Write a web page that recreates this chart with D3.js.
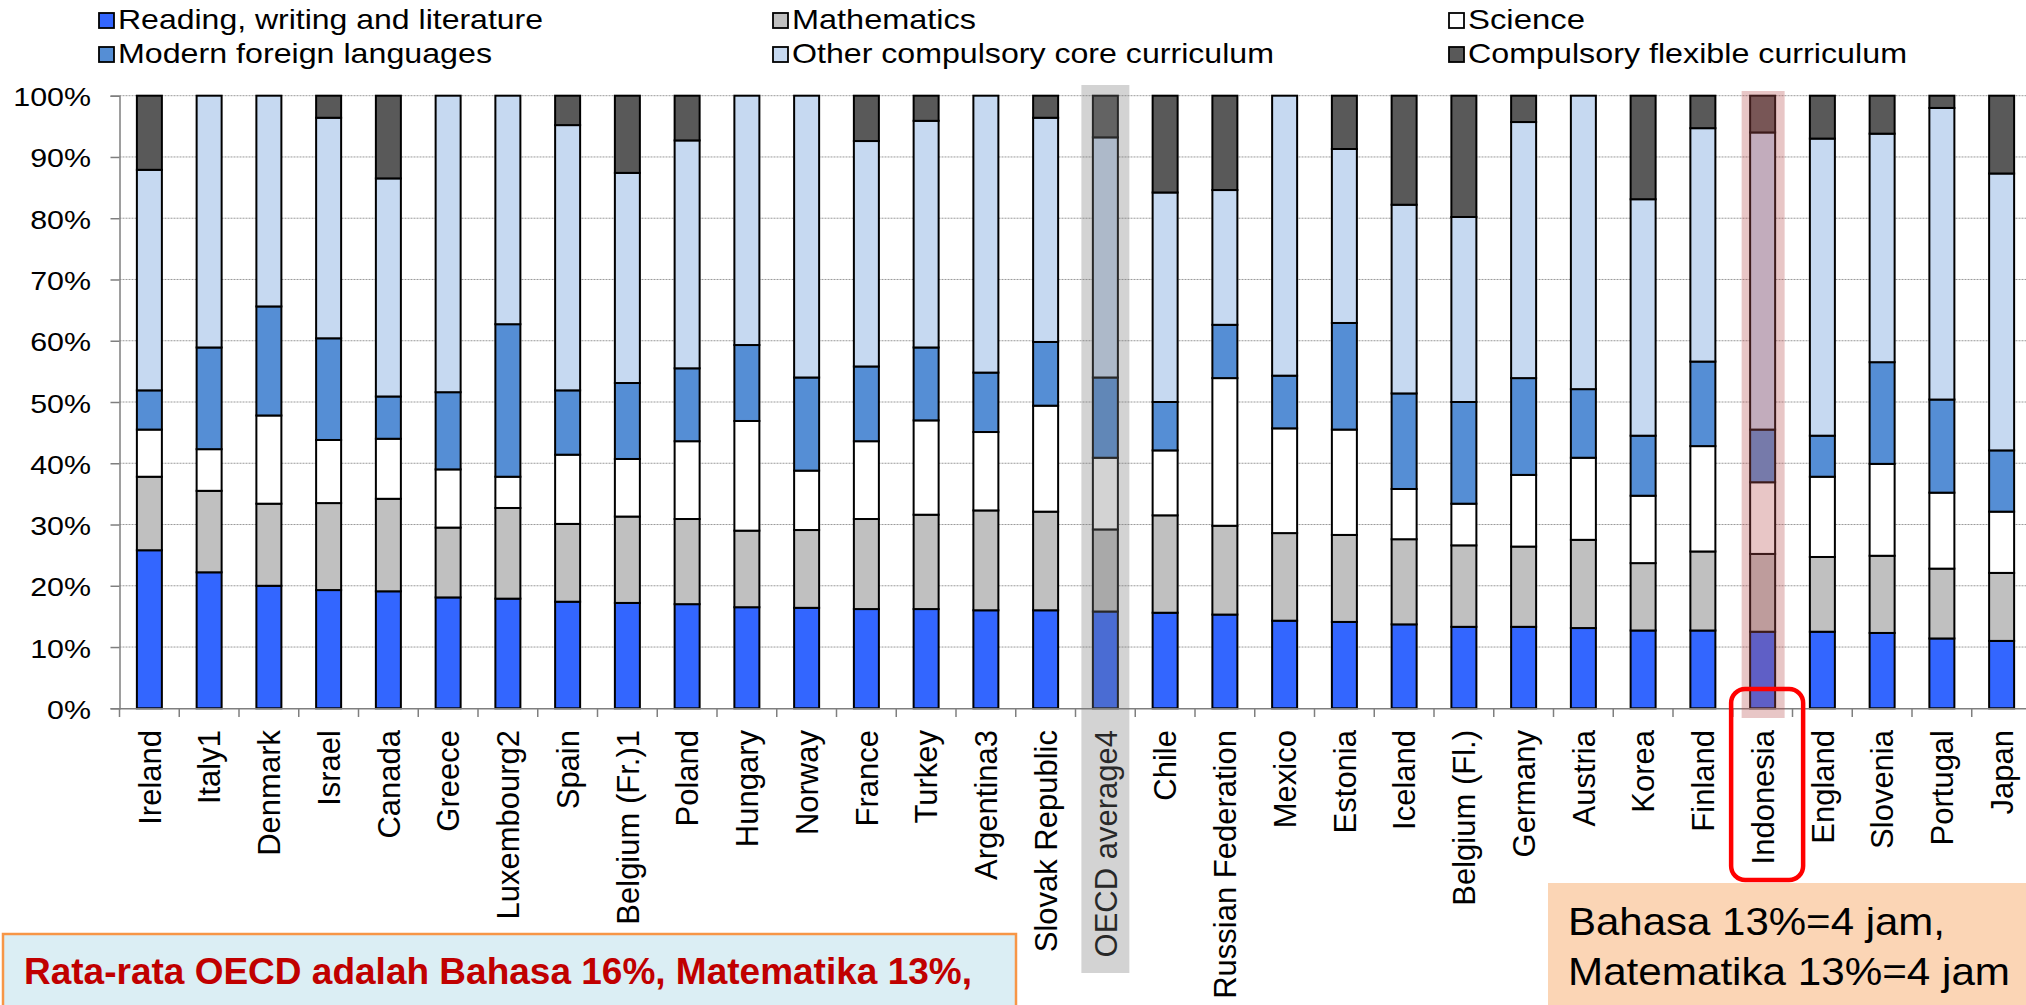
<!DOCTYPE html>
<html>
<head>
<meta charset="utf-8">
<script src="https://cdn.jsdelivr.net/npm/d3@7/dist/d3.min.js"></script>
<style>
  html, body { margin: 0; padding: 0; background: #fff; }
  svg { display: block; }
  text { font-family: "Liberation Sans", Arial, sans-serif; }
</style>
</head>
<body>
<svg id="chart" width="2026" height="1005"></svg>
<script>
// ---------------- data ----------------
const categories = ["Ireland","Italy1","Denmark","Israel","Canada","Greece","Luxembourg2","Spain",
  "Belgium (Fr.)1","Poland","Hungary","Norway","France","Turkey","Argentina3","Slovak Republic",
  "OECD average4","Chile","Russian Federation","Mexico","Estonia","Iceland","Belgium (Fl.)",
  "Germany","Austria","Korea","Finland","Indonesia","England","Slovenia","Portugal","Japan"];

const reading   = [25.8,22.2,20.0,19.3,19.1,18.1,17.9,17.4,17.2,17.0,16.5,16.4,16.2,16.2,16.0,16.0,15.8,15.6,15.3,14.3,14.1,13.7,13.3,13.3,13.1,12.7,12.7,12.5,12.5,12.3,11.4,11.0];
const maths     = [12.0,13.3,13.4,14.2,15.1,11.4,14.8,12.7,14.1,13.9,12.5,12.7,14.7,15.4,16.3,16.1,13.4,15.9,14.5,14.3,14.2,13.9,13.3,13.1,14.4,11.0,12.9,12.7,12.2,12.6,11.4,11.1];
const science   = [7.7,6.8,14.4,10.3,9.8,9.5,5.1,11.3,9.4,12.7,17.9,9.7,12.7,15.4,12.8,17.3,11.7,10.6,24.1,17.1,17.2,8.2,6.8,11.7,13.4,11.0,17.2,11.7,13.1,15.0,12.4,10.0];
const foreignLang = [6.4,16.6,17.8,16.6,6.9,12.6,24.9,10.5,12.4,11.9,12.4,15.2,12.2,11.9,9.7,10.4,13.1,7.9,8.7,8.6,17.4,15.6,16.6,15.8,11.2,9.8,13.8,8.6,6.7,16.6,15.2,10.0];
const otherCore = [36.0,41.1,34.4,36.0,35.6,48.4,37.3,43.3,34.3,37.2,40.7,46.0,36.8,37.0,45.2,36.6,39.2,34.2,22.0,45.7,28.4,30.8,30.2,41.8,47.9,38.6,38.1,48.5,48.5,37.3,47.6,45.2];
const flexible  = [12.1,0,0,3.6,13.5,0,0,4.8,12.6,7.3,0,0,7.4,4.1,0,3.6,6.8,15.8,15.4,0,8.7,17.8,19.8,4.3,0,16.9,5.3,6.0,7.0,6.2,2.0,12.7];

const seriesNames = ["Reading, writing and literature","Mathematics","Science",
  "Modern foreign languages","Other compulsory core curriculum","Compulsory flexible curriculum"];
const seriesKeys = ["reading","maths","science","foreignLang","otherCore","flexible"];
const seriesColors = ["#3366FF","#C0C0C0","#FFFFFF","#558ED5","#C6D9F1","#595959"];
const yTicks = [0,10,20,30,40,50,60,70,80,90,100];

const highlightGray = "OECD average4";
const highlightRed = "Indonesia";
const noteLeft = "Rata-rata OECD adalah Bahasa 16%, Matematika 13%,";
const noteRight = ["Bahasa 13%=4 jam,", "Matematika 13%=4 jam"];

// ---------------- build ----------------
const svg = d3.select("#chart");
svg.append("rect").attr("width",2026).attr("height",1005).attr("fill","#fff");

const rows = categories.map((c,i) => ({
  cat: c, reading: reading[i], maths: maths[i], science: science[i],
  foreignLang: foreignLang[i], otherCore: otherCore[i], flexible: flexible[i]
}));

const x = d3.scaleBand().domain(categories).range([119.5, 119.5 + 32*59.75]).paddingInner(0).paddingOuter(0);
const y = d3.scaleLinear().domain([0,100]).range([708.3, 95.7]);
const barW = 25;

// gridlines
svg.append("g").selectAll("line").data(yTicks.filter(t => t > 0)).join("line")
  .attr("x1", 119.5).attr("x2", 2026)
  .attr("y1", d => y(d)).attr("y2", d => y(d))
  .attr("stroke", "#9a9a9a").attr("stroke-width", 1).attr("stroke-dasharray", "2,1");

// stacked bars
const stack = d3.stack().keys(seriesKeys);
const stacked = stack(rows);
const gBars = svg.append("g");
stacked.forEach((s, si) => {
  gBars.append("g").selectAll("rect").data(s).join("rect")
    .attr("x", d => x(d.data.cat) + x.bandwidth()/2 - barW/2)
    .attr("width", barW)
    .attr("y", d => y(Math.min(d[1],100)))
    .attr("height", d => Math.max(0, y(d[0]) - y(Math.min(d[1],100))))
    .attr("fill", seriesColors[si])
    .attr("stroke", "#000").attr("stroke-width", 2)
    .attr("display", d => (d[1]-d[0]) > 0 ? null : "none");
});

// y axis
const yAxis = d3.axisLeft(y).tickValues(yTicks).tickSize(9).tickFormat("");
const gy = svg.append("g").attr("transform", "translate(119.5,0)").call(yAxis);
gy.select(".domain").attr("stroke", "#7f7f7f").attr("stroke-width", 1.5);
gy.selectAll(".tick line").attr("stroke", "#7f7f7f").attr("stroke-width", 1.5);
// y labels (horizontally widened as in the reference)
svg.append("g").selectAll("g").data(yTicks).join("g")
  .attr("transform", d => `translate(91,${y(d) + 10.5}) scale(1.17,1)`)
  .append("text").attr("text-anchor", "end").attr("font-size", 26).attr("fill", "#000")
  .text(d => d + "%");

// x axis
const xAxis = d3.axisBottom(x).tickSize(0).tickFormat("");
const gx = svg.append("g").attr("transform", "translate(0,708.3)").call(xAxis);
gx.select(".domain").attr("stroke", "#7f7f7f").attr("stroke-width", 1.5);
// tick marks at band boundaries
const bounds = d3.range(categories.length + 1).map(i => x.range()[0] + i * x.step());
svg.append("g").selectAll("line").data(bounds).join("line")
  .attr("x1", d => d).attr("x2", d => d).attr("y1", 708.3).attr("y2", 717)
  .attr("stroke", "#7f7f7f").attr("stroke-width", 1.5);
// category labels rotated
svg.append("g").selectAll("text").data(categories).join("text")
  .attr("transform", d => `translate(${x(d) + x.bandwidth()/2},730) rotate(-90)`)
  .attr("text-anchor", "end").attr("dy", "0.36em").attr("font-size", 31).attr("fill", "#000")
  .text(d => d);

// legend
const legendPos = [
  {x: 99, y: 13}, {x: 773, y: 13}, {x: 1449, y: 13},
  {x: 99, y: 47}, {x: 773, y: 47}, {x: 1449, y: 47}
];
const legendOrder = [0,1,2,3,4,5];
const legendWidths = [425, 184, 117, 374, 482, 439];
const gl = svg.append("g");
legendOrder.forEach((si, k) => {
  const p = legendPos[k];
  gl.append("rect").attr("x", p.x).attr("y", p.y).attr("width", 15).attr("height", 15)
    .attr("fill", seriesColors[si]).attr("stroke", "#000").attr("stroke-width", 1.8);
  gl.append("text").attr("x", p.x + 19).attr("y", p.y + 16)
    .attr("font-size", 28).attr("fill", "#000")
    .attr("textLength", legendWidths[k]).attr("lengthAdjust", "spacingAndGlyphs")
    .text(seriesNames[si]);
});

// highlight overlays
const cg = x(highlightGray) + x.bandwidth()/2;
svg.append("rect").attr("x", cg - 24).attr("y", 85).attr("width", 48).attr("height", 888)
  .attr("fill", "#7A7A7A").attr("opacity", 0.33);
const cr = x(highlightRed) + x.bandwidth()/2;
svg.append("rect").attr("x", cr - 21).attr("y", 91).attr("width", 43).attr("height", 627)
  .attr("fill", "#B95252").attr("opacity", 0.33);
svg.append("rect").attr("x", cr - 31.5).attr("y", 689).attr("width", 72).attr("height", 191)
  .attr("rx", 14).attr("ry", 14)
  .attr("fill", "none").attr("stroke", "#FF0000").attr("stroke-width", 4.5);

// bottom-left note
svg.append("rect").attr("x", 3).attr("y", 934).attr("width", 1013).attr("height", 90)
  .attr("fill", "#DBEEF4").attr("stroke", "#F79646").attr("stroke-width", 2.5);
svg.append("text").attr("x", 24).attr("y", 984)
  .attr("font-family", "'Liberation Sans Narrow', 'Liberation Sans', Arial, sans-serif")
  .attr("font-weight", "bold").attr("font-size", 37).attr("fill", "#C00000")
  .attr("textLength", 948).attr("lengthAdjust", "spacingAndGlyphs")
  .text(noteLeft);

// bottom-right note
svg.append("rect").attr("x", 1548).attr("y", 883).attr("width", 500).attr("height", 150)
  .attr("fill", "#FBD5B5");
const rightWidths = [377, 442];
const rightBase = [935, 985];
noteRight.forEach((t, i) => {
  svg.append("text").attr("x", 1568).attr("y", rightBase[i])
    .attr("font-size", 39).attr("fill", "#000")
    .attr("textLength", rightWidths[i]).attr("lengthAdjust", "spacingAndGlyphs")
    .text(t);
});
</script>
</body>
</html>
